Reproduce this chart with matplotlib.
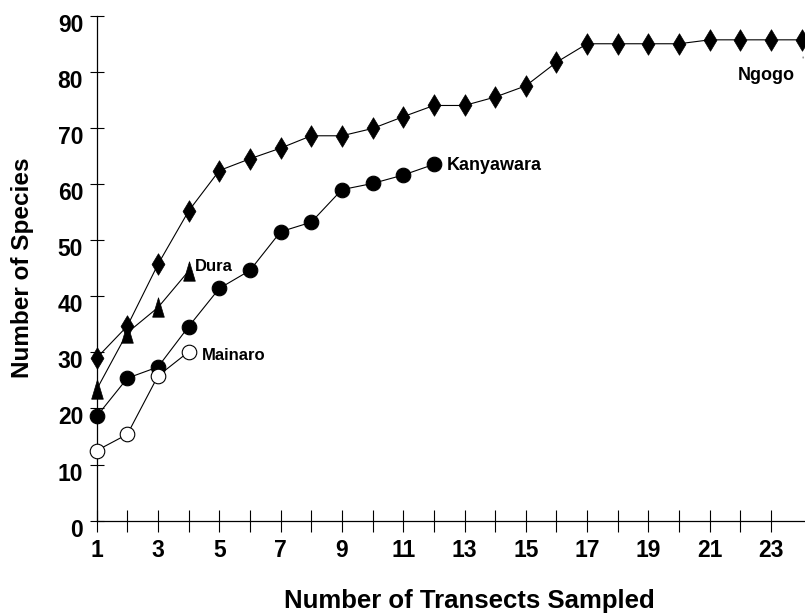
import matplotlib
matplotlib.use("Agg")
import matplotlib.pyplot as plt
from matplotlib.transforms import ScaledTranslation

plt.rcParams['font.family'] = ['Liberation Sans', 'DejaVu Sans']
plt.rcParams['font.weight'] = 'bold'

# ---- data ----
transects = list(range(1, 25))
ngogo = [29.0, 34.7, 45.7, 55.2, 62.4, 64.5, 66.4, 68.6, 68.6, 69.9, 72.0, 74.0,
         74.0, 75.5, 77.5, 81.7, 85.0, 85.0, 85.0, 85.0, 85.7, 85.7, 85.7, 85.7]
dura = [23.4, 33.5, 38.0, 44.5]
kanyawara = [18.6, 25.4, 27.4, 34.6, 41.4, 44.6, 51.5, 53.2, 59.0, 60.1, 61.6, 63.5]
mainaro = [12.5, 15.4, 25.8, 30.1]

site_names = ["Ngogo", "Dura", "Kanyawara", "Mainaro"]
y_ticks = [0, 10, 20, 30, 40, 50, 60, 70, 80, 90]
x_ticks = list(range(1, 24))
x_ticklabels = [str(v) if v % 2 == 1 else "" for v in x_ticks]
x_title = "Number of Transects Sampled"
y_title = "Number of Species"

W, H = 805, 613
fig = plt.figure(figsize=(W / 100, H / 100), dpi=100)
ax = fig.add_axes([96.7 / W, 1 - 520.7 / H, (W - 96.7) / W, (520.7 - 15.7) / H])

diamond = [(0, 1), (0.6, 0), (0, -1), (-0.6, 0), (0, 1)]
triangle = [(-0.6, -1), (0.6, -1), (0, 1), (-0.6, -1)]
lw = 0.8

ax.plot(transects[:len(ngogo)], ngogo, color='black', lw=lw, marker=diamond,
        ms=15.5, mfc='black', mec='black', mew=0.5, clip_on=False, zorder=3)
ax.plot(transects[:len(dura)], dura, color='black', lw=lw, marker=triangle,
        ms=14, mfc='black', mec='black', mew=0.5, clip_on=False, zorder=4)
ax.plot(transects[:len(kanyawara)], kanyawara, color='black', lw=lw, marker='o',
        ms=10.5, mfc='black', mec='black', mew=0.8, clip_on=False, zorder=5)
ax.plot(transects[:len(mainaro)], mainaro, color='black', lw=lw, marker='o',
        ms=10.5, mfc='white', mec='black', mew=0.8, clip_on=False, zorder=6)

pt = 72 / 100  # points per pixel
ax.annotate(site_names[1], (transects[len(dura) - 1], dura[-1]), xytext=(6 * pt, 0),
            textcoords='offset points', ha='left', va='baseline', fontsize=12,
            fontweight='bold')
ax.annotate(site_names[3], (transects[len(mainaro) - 1], mainaro[-1]), xytext=(13 * pt, -4 * pt),
            textcoords='offset points', ha='left', va='center', fontsize=12,
            fontweight='bold')
ax.annotate(site_names[2], (transects[len(kanyawara) - 1], kanyawara[-1]), xytext=(13 * pt, -1 * pt),
            textcoords='offset points', ha='left', va='center', fontsize=13,
            fontweight='bold')
ax.annotate(site_names[0], (transects[len(ngogo) - 1], ngogo[-1]), xytext=(-64 * pt, -40 * pt),
            textcoords='offset points', ha='left', va='baseline', fontsize=13,
            fontweight='bold')
ax.annotate("", (transects[len(ngogo) - 1] + 0.05, ngogo[-1] - 2.6),
            xytext=(transects[len(ngogo) - 1] + 0.05, ngogo[-1] - 3.7),
            arrowprops=dict(arrowstyle='-', color='#999999', lw=1.2))

ax.set_xlim(1, 1 + (W - 96.7) / 30.65)
ax.set_ylim(0, 90)
ax.set_xticks(x_ticks)
ax.set_xticklabels(x_ticklabels)
ax.set_yticks(y_ticks)

for s in ['top', 'right']:
    ax.spines[s].set_visible(False)
for s in ['left', 'bottom']:
    ax.spines[s].set_linewidth(0.9)
    ax.spines[s].set_color('black')

ax.tick_params(axis='x', direction='inout', length=16, width=0.8, pad=5,
               labelsize=16.5)
ax.tick_params(axis='y', direction='inout', length=9.5, width=0.8, pad=5,
               labelsize=16.5)
for lab in ax.get_xticklabels() + ax.get_yticklabels():
    lab.set_fontweight('bold')
off = ScaledTranslation(0, -7 / 100, fig.dpi_scale_trans)
for lab in ax.get_yticklabels():
    lab.set_transform(lab.get_transform() + off)

fig.text(469.5 / W, 1 - 608 / H, x_title, ha='center', va='baseline',
         fontsize=18.5, fontweight='bold')
fig.text(22 / W, 1 - 267.5 / H, y_title, ha='center', va='center', rotation=90,
         fontsize=17.5, fontweight='bold')

fig.savefig("out.png", dpi=100)
